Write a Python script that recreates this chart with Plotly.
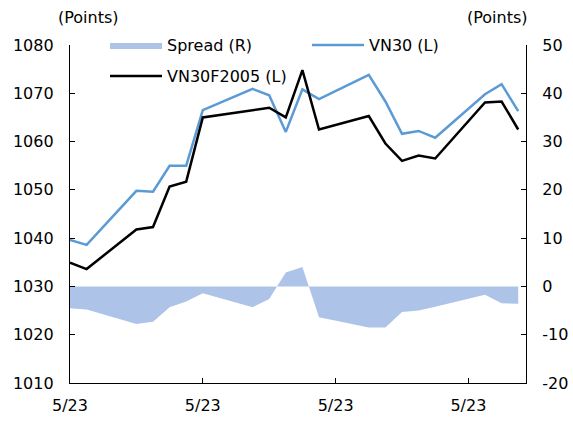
import plotly.graph_objects as go

# Trading-day index (gaps = weekends/holidays)
day_index = [0, 1, 4, 5, 6, 7, 8, 11, 12, 13, 14, 15, 18, 19, 20, 21, 22, 25, 26, 27]

vn30 = [1039.6, 1038.6, 1049.8, 1049.6, 1055.0, 1055.0, 1066.5, 1070.9, 1069.6, 1062.0,
        1070.8, 1068.8, 1073.8, 1068.3, 1061.6, 1062.2, 1060.8, 1069.8, 1071.9, 1066.3]

vn30f2005 = [1034.9, 1033.6, 1041.8, 1042.3, 1050.7, 1051.7, 1065.0, 1066.5, 1067.0, 1065.0,
             1074.8, 1062.5, 1065.3, 1059.6, 1056.0, 1057.1, 1056.5, 1068.1, 1068.3, 1062.5]

spread = [-4.5, -4.8, -7.8, -7.3, -4.3, -3.1, -1.4, -4.3, -2.6, 2.9,
          4.0, -6.4, -8.5, -8.5, -5.3, -5.0, -4.2, -1.7, -3.5, -3.6]

tick_positions = [0, 8, 16, 24]
tick_labels = ["5/23", "5/23", "5/23", "5/23"]
left_ticks = [1010, 1020, 1030, 1040, 1050, 1060, 1070, 1080]
right_ticks = [-20, -10, 0, 10, 20, 30, 40, 50]
right_labels = ["-20", "-10", "0", "10", "20", "30", "40", "50"]

FONT = "DejaVu Sans"
L, R, T, B = 70, 47, 45, 38
W, H = 573, 421
PW, PH = W - L - R, H - T - B


def px_x(p):
    return (p - L) / PW


def px_y(p):
    return (H - B - p) / PH


fig = go.Figure()

fig.add_trace(go.Scatter(
    x=day_index, y=spread, name="Spread (R)", yaxis="y2",
    mode="lines", line=dict(width=0, color="#AEC3E8"),
    fill="tozeroy", fillcolor="#AEC3E8", legend="legend",
))
fig.add_trace(go.Scatter(
    x=day_index, y=vn30, name="VN30 (L)", mode="lines",
    line=dict(color="#5B9BD5", width=2.5), legend="legend",
))
fig.add_trace(go.Scatter(
    x=day_index, y=vn30f2005, name="VN30F2005 (L)", mode="lines",
    line=dict(color="#000000", width=2.5), legend="legend2",
))

axis_common = dict(
    showgrid=False, zeroline=False, showline=True, linecolor="#000000", linewidth=1.3,
    ticks="inside", ticklen=5, tickcolor="#000000", tickwidth=1, automargin=False,
    tickfont=dict(family=FONT, size=16, color="#000000"),
)

fig.update_layout(
    width=W, height=H,
    margin=dict(l=L, r=R, t=T, b=B, autoexpand=False),
    paper_bgcolor="white", plot_bgcolor="white",
    font=dict(family=FONT, size=16, color="#000000"),
    xaxis=dict(range=[0, 27.47], tickvals=tick_positions, ticktext=tick_labels,
               ticklabelstandoff=8, **axis_common),
    yaxis=dict(range=[1010, 1080], tickvals=left_ticks, ticklabelstandoff=12, **axis_common),
    yaxis2=dict(range=[-20, 50], tickvals=right_ticks, ticktext=right_labels,
                overlaying="y", side="right", ticklabelstandoff=12, **axis_common),
    legend=dict(orientation="h", x=px_x(105), xanchor="left", y=px_y(45), yanchor="middle",
                itemwidth=52, entrywidth=135, bgcolor="rgba(0,0,0,0)",
                font=dict(family=FONT, size=16)),
    legend2=dict(orientation="h", x=px_x(105), xanchor="left", y=px_y(76),
                 yanchor="middle", itemwidth=52, bgcolor="rgba(0,0,0,0)",
                 font=dict(family=FONT, size=16)),
    showlegend=True,
    annotations=[
        dict(text="(Points)", xref="paper", yref="paper", x=px_x(88), y=px_y(18),
             xanchor="center", yanchor="middle", showarrow=False, font=dict(family=FONT, size=16)),
        dict(text="(Points)", xref="paper", yref="paper", x=px_x(497), y=px_y(18),
             xanchor="center", yanchor="middle", showarrow=False, font=dict(family=FONT, size=16)),
    ],
)

fig.write_html("out.html", config={"displayModeBar": False},
               post_script="document.body.style.margin='0';")
